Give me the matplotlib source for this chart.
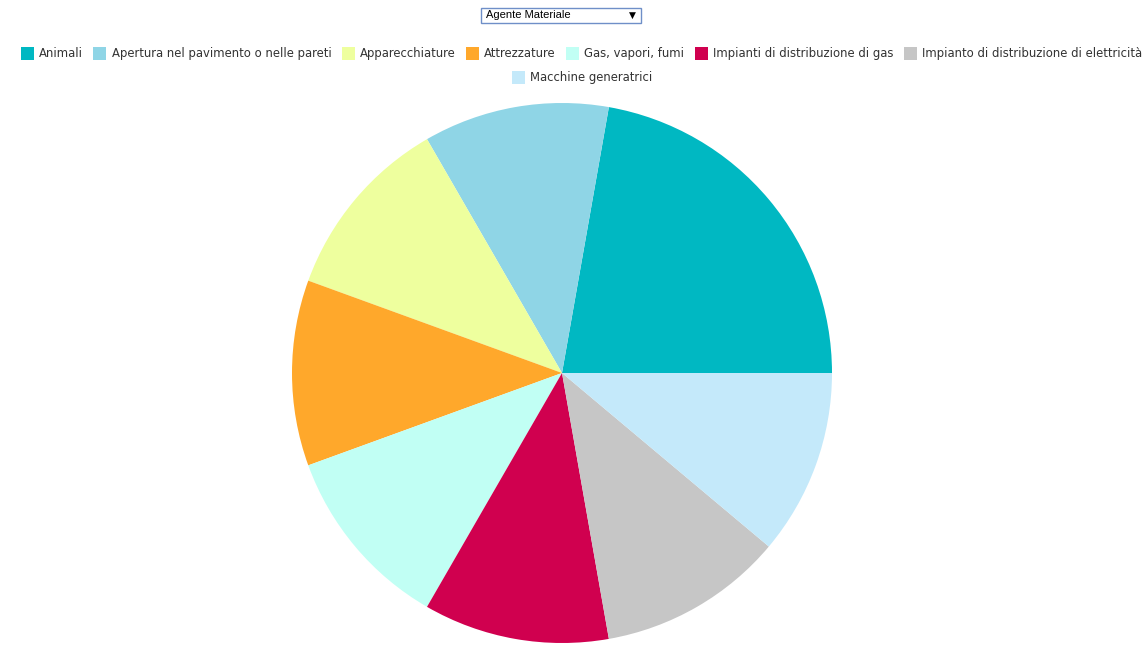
import matplotlib
matplotlib.use("Agg")
import matplotlib.pyplot as plt
from matplotlib.patches import Rectangle

categories = [
    "Animali",
    "Apertura nel pavimento o nelle pareti",
    "Apparecchiature",
    "Attrezzature",
    "Gas, vapori, fumi",
    "Impianti di distribuzione di gas",
    "Impianto di distribuzione di elettricità",
    "Macchine generatrici",
]
values = [2, 1, 1, 1, 1, 1, 1, 1]
colors = ["#00B8C2", "#8FD5E6", "#EEFF9E", "#FFA82B", "#C1FFF4", "#D0004F", "#C6C6C6", "#C4E9FA"]
dropdown_label = "Agente Materiale"

W, H = 1145, 665
fig = plt.figure(figsize=(W / 100, H / 100), dpi=100)
fig.patch.set_facecolor("white")

# pie
cx, cy, r = 562, 373, 270
ax = fig.add_axes([(cx - r) / W, (H - cy - r) / H, 2 * r / W, 2 * r / H])
ax.pie(values, colors=colors, startangle=0, counterclock=True,
       wedgeprops=dict(linewidth=0))
ax.set_aspect("equal")
ax.set_xlim(-1, 1)
ax.set_ylim(-1, 1)
ax.axis("off")

# dropdown
fig.patches.append(Rectangle((481 / W, 1 - 23 / H), 160 / W, 15 / H,
                             transform=fig.transFigure, facecolor="white",
                             edgecolor="#6F8FC8", linewidth=1.0))
fig.text(486 / W, 1 - 15.5 / H, dropdown_label, fontsize=8.0,
         family="Liberation Sans", va="center", ha="left", color="black")
fig.text(632 / W, 1 - 15.5 / H, "▼", fontsize=6.5, family="DejaVu Sans",
         va="center", ha="center", color="black")

# legend (manual layout)
fs = 8.4
fam = "DejaVu Sans"
box = 13
gap_text = 5
gap_item = 10.5
rows = [list(range(7)), [7]]
row_y = [53, 77]
row_x0 = [21, 512]
renderer = fig.canvas.get_renderer()

def text_width(s):
    t = fig.text(0, 0, s, fontsize=fs, family=fam)
    w = t.get_window_extent(renderer=renderer).width
    t.remove()
    return w

for row, yc, x in zip(rows, row_y, row_x0):
    for i in row:
        w = box + gap_text + text_width(categories[i])
        fig.patches.append(Rectangle((x / W, 1 - (yc + box / 2) / H), box / W, box / H,
                                     transform=fig.transFigure,
                                     facecolor=colors[i], edgecolor="none"))
        fig.text((x + box + gap_text) / W, 1 - (yc + 3.8) / H, categories[i], fontsize=fs,
                 family=fam, va="baseline", ha="left", color="#333333")
        x += w + gap_item

fig.savefig("out.png", dpi=100)
